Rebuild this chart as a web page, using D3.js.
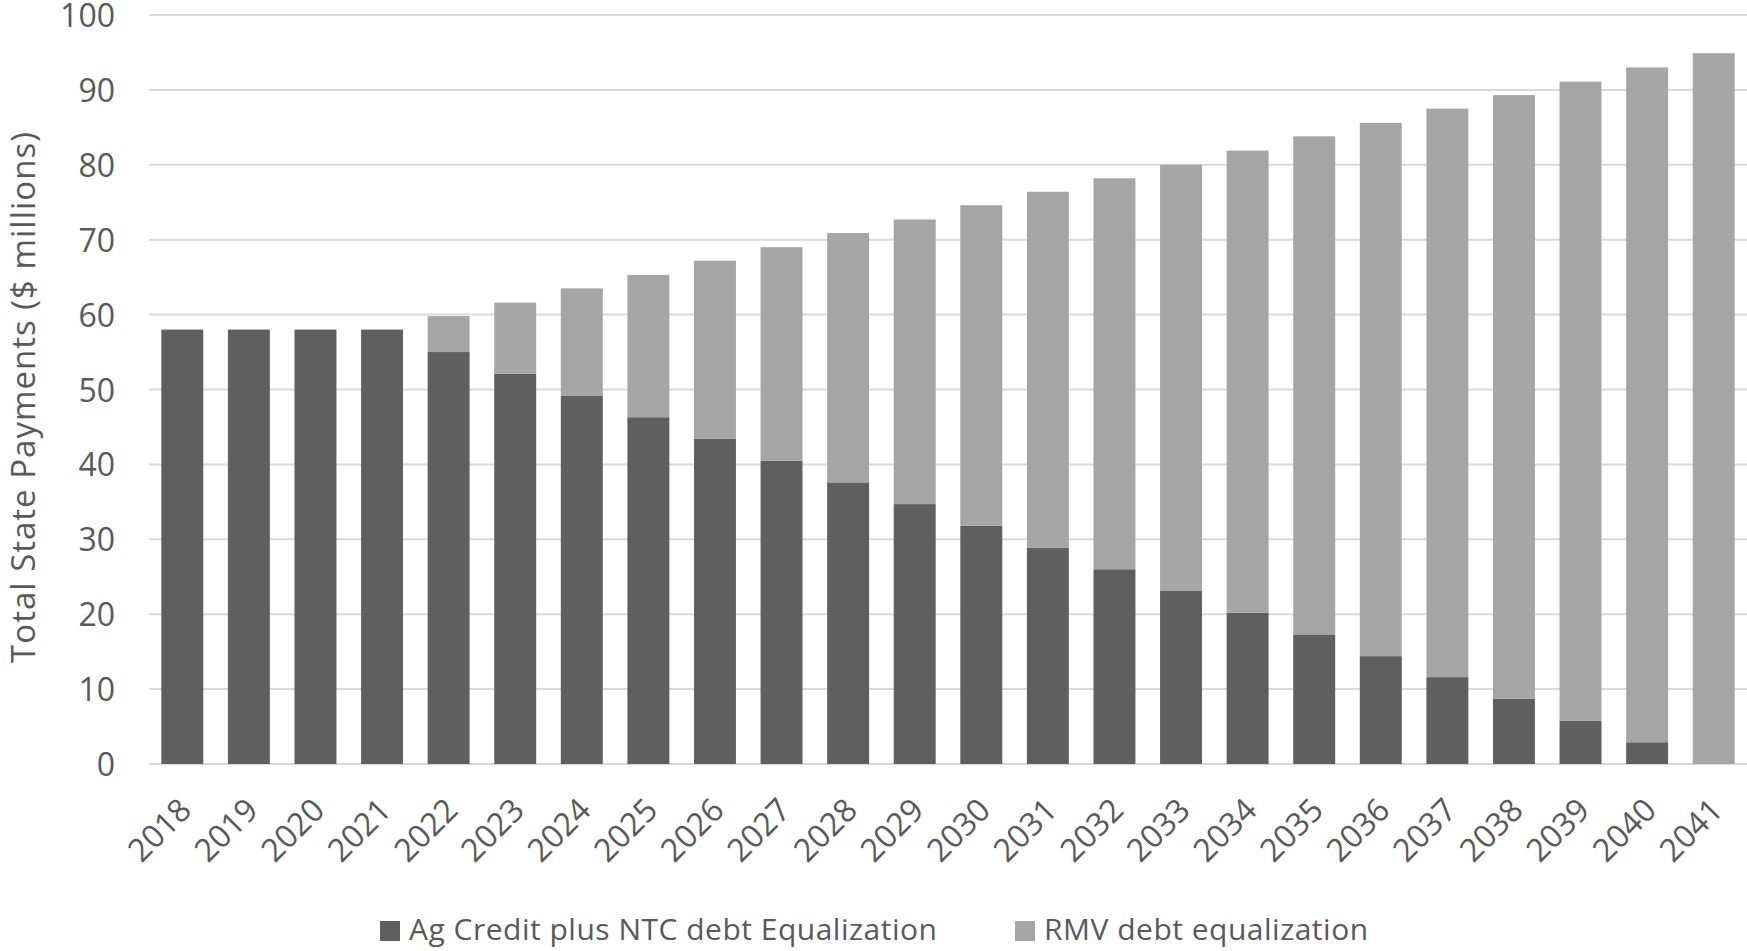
<!DOCTYPE html>
<html>
<head>
<meta charset="utf-8">
<script src="https://cdn.jsdelivr.net/npm/d3@7"></script>
<style>
  html, body { margin: 0; padding: 0; background: #fff; }
  svg { display: block; font-family: "Open Sans", sans-serif; }
</style>
</head>
<body>
<div id="chart"></div>
<script>
const WIDTH = 1747;
const HEIGHT = 951;

const YEARS = ["2018", "2019", "2020", "2021", "2022", "2023", "2024", "2025",
  "2026", "2027", "2028", "2029", "2030", "2031", "2032", "2033", "2034",
  "2035", "2036", "2037", "2038", "2039", "2040", "2041"];

// Ag Credit plus NTC debt Equalization ($ millions)
const AG_CREDIT = [58, 58, 58, 58, 55.0, 52.1, 49.2, 46.3, 43.4, 40.5, 37.6,
  34.7, 31.8, 28.9, 26.0, 23.1, 20.2, 17.3, 14.4, 11.6, 8.7, 5.8, 2.9, 0];

// RMV debt equalization ($ millions)
const RMV = [0, 0, 0, 0, 4.8, 9.5, 14.3, 19.0, 23.8, 28.5, 33.3, 38.0, 42.8,
  47.5, 52.2, 56.9, 61.7, 66.5, 71.2, 75.9, 80.6, 85.3, 90.1, 94.9];

const Y_TICKS = [0, 10, 20, 30, 40, 50, 60, 70, 80, 90, 100];

const SERIES = ["ag", "rmv"];
const SERIES_LABELS = {
  ag: "Ag Credit plus NTC debt Equalization",
  rmv: "RMV debt equalization",
};
const SERIES_COLOR = { ag: "#5f5f5f", rmv: "#a5a5a5" };
const TEXT_COLOR = "#595959";
const GRID_COLOR = "#d9d9d9";

const rows = YEARS.map((year, i) => ({ year: year, ag: AG_CREDIT[i], rmv: RMV[i] }));

const svg = d3.select("#chart")
  .append("svg")
  .attr("width", WIDTH)
  .attr("height", HEIGHT);

const X_SCALE = d3.scaleBand()
  .domain(YEARS)
  .range([149, 1747])
  .paddingInner(0.37)
  .paddingOuter(0.185);

const Y_SCALE = d3.scaleLinear()
  .domain([0, 100])
  .range([764, 15]);

// gridlines
svg.append("g")
  .selectAll("line")
  .data(Y_TICKS)
  .enter()
  .append("line")
  .attr("x1", 149)
  .attr("x2", WIDTH)
  .attr("y1", (d) => Y_SCALE(d))
  .attr("y2", (d) => Y_SCALE(d))
  .attr("stroke", GRID_COLOR)
  .attr("stroke-width", 2);

// stacked bars
const stacked = d3.stack().keys(SERIES)(rows);

svg.append("g")
  .selectAll("g")
  .data(stacked)
  .enter()
  .append("g")
  .attr("fill", (d) => SERIES_COLOR[d.key])
  .selectAll("rect")
  .data((d) => d)
  .enter()
  .append("rect")
  .attr("x", (d) => X_SCALE(d.data.year))
  .attr("y", (d) => Y_SCALE(d[1]))
  .attr("width", X_SCALE.bandwidth())
  .attr("height", (d) => Y_SCALE(d[0]) - Y_SCALE(d[1]));

// y axis labels
const yAxis = svg.append("g")
  .attr("transform", "translate(115,0)")
  .call(d3.axisLeft(Y_SCALE).tickValues(Y_TICKS).tickSize(0).tickPadding(0));
yAxis.select(".domain").remove();
yAxis.selectAll("text")
  .attr("fill", TEXT_COLOR)
  .attr("font-size", "32px")
  .attr("font-family", "'Open Sans', sans-serif")
  .attr("dy", "0.36em");

// x axis labels, rotated
const xAxis = svg.append("g")
  .attr("transform", "translate(0,764)")
  .call(d3.axisBottom(X_SCALE).tickSize(0));
xAxis.select(".domain").remove();
xAxis.selectAll("text")
  .attr("fill", TEXT_COLOR)
  .attr("font-size", "32px")
  .attr("font-family", "'Open Sans', sans-serif")
  .attr("x", 0)
  .attr("y", 0)
  .attr("dy", 0)
  .attr("text-anchor", "end")
  .attr("transform", "translate(11,48) rotate(-45)");

// axis title
svg.append("text")
  .attr("transform", "translate(35,397) rotate(-90)")
  .attr("text-anchor", "middle")
  .attr("fill", TEXT_COLOR)
  .style("font-size", "33px")
  .style("letter-spacing", "1px")
  .text("Total State Payments ($ millions)");

// legend
const LEGEND_X = { ag: 380, rmv: 1015 };
const legend = svg.append("g")
  .selectAll("g")
  .data(SERIES)
  .enter()
  .append("g")
  .attr("transform", (d) => `translate(${LEGEND_X[d]},921)`);

legend.append("rect")
  .attr("width", 20)
  .attr("height", 20)
  .attr("fill", (d) => SERIES_COLOR[d]);

legend.append("text")
  .attr("x", 29)
  .attr("y", 19)
  .attr("fill", TEXT_COLOR)
  .style("font-size", "30px")
  .style("letter-spacing", "0.5px")
  .text((d) => SERIES_LABELS[d]);
</script>
</body>
</html>
